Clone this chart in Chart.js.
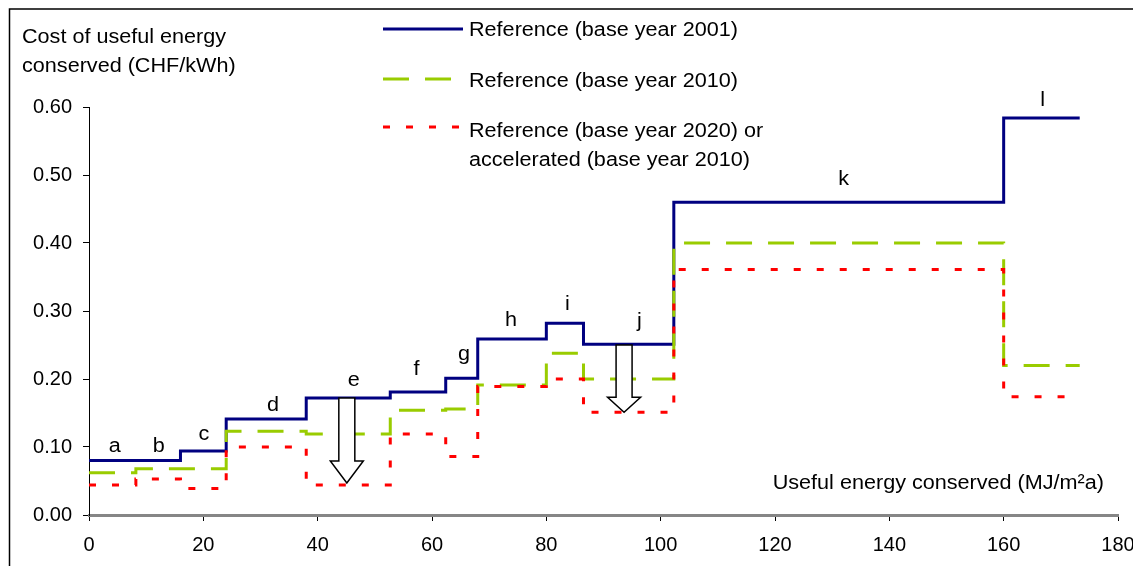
<!DOCTYPE html>
<html><head><meta charset="utf-8">
<script src="https://cdn.jsdelivr.net/npm/chart.js@4/dist/chart.umd.min.js"></script>
<style>html,body{margin:0;padding:0;background:#fff;}#wrap{width:1133px;height:566px;position:relative;}</style>
</head><body><div id="wrap"><canvas id="c" width="1133" height="566"></canvas></div>
<script>
// ---- data ----
const stepEdges2001 = [0, 16, 24, 38, 52.7, 62.4, 68, 80, 86.5, 102.3, 160, 173.3];
const cost2001 = [0.080, 0.094, 0.141, 0.172, 0.181, 0.201, 0.259, 0.282, 0.251, 0.460, 0.584];
const stepEdges = [0, 8.2, 16, 24, 38, 52.7, 62.4, 68, 80, 86.5, 102.3, 160, 173.3];
const cost2010 = [0.062, 0.068, 0.068, 0.123, 0.119, 0.154, 0.156, 0.191, 0.238, 0.200, 0.400, 0.220];
const cost2020 = [0.044, 0.053, 0.039, 0.100, 0.044, 0.119, 0.086, 0.189, 0.200, 0.151, 0.361, 0.174];
const seriesNames = ['Reference (base year 2001)', 'Reference (base year 2010)', ['Reference (base year 2020) or', 'accelerated (base year 2010)']];
const measureLetters = ['a','b','c','d','e','f','g','h','i','j','k','l'];
const letterX = [4.5, 12.2, 20.1, 32.2, 46.3, 57.3, 65.6, 73.8, 83.7, 96.3, 132, 166.8];
const letterY = [0.093, 0.093, 0.110, 0.153, 0.189, 0.206, 0.228, 0.278, 0.301, 0.277, 0.485, 0.601];
const arrowX = [45.1, 93.6];
const arrowFrom = [0.172, 0.250];
const arrowTo = [0.047, 0.151];
const xTickValues = [0, 20, 40, 60, 80, 100, 120, 140, 160, 180];
const yTickValues = [0.00, 0.10, 0.20, 0.30, 0.40, 0.50, 0.60];
const yTitle = ['Cost of useful energy', 'conserved (CHF/kWh)'];
const xTitle = 'Useful energy conserved (MJ/m²a)';

// ---- styles ----
const FONT = '"Liberation Sans", Arial, sans-serif';
const FS = 20;
const SX = 1.08;
const C_BLUE = '#000080', C_GREEN = '#99cc00', C_RED = '#ff0000';
const DASH_GREEN = [26, 16], DASH_RED = [7, 16];
const arrowHeadLen = [22, 15];

function steps(edges, vals) {
  return edges.map((x, i) => ({ x: x, y: vals[Math.min(i, vals.length - 1)] }));
}
function text(ctx, s, x, y, align) {
  ctx.save();
  ctx.translate(x, y); ctx.scale(SX, 1);
  ctx.textAlign = align; ctx.textBaseline = 'alphabetic';
  ctx.fillText(s, 0, 0);
  ctx.restore();
}

const overlay = {
  id: 'overlay',
  afterDatasetsDraw(chart) {
    const ctx = chart.ctx, xs = chart.scales.x, ys = chart.scales.y;
    ctx.save();
    for (let i = 0; i < arrowX.length; i++) {
      const cx = xs.getPixelForValue(arrowX[i]);
      const top = ys.getPixelForValue(arrowFrom[i]);
      const tip = ys.getPixelForValue(arrowTo[i]);
      const hb = tip - arrowHeadLen[i];
      ctx.beginPath();
      ctx.moveTo(cx - 8, top); ctx.lineTo(cx + 8, top); ctx.lineTo(cx + 8, hb);
      ctx.lineTo(cx + 16.5, hb); ctx.lineTo(cx, tip); ctx.lineTo(cx - 16.5, hb);
      ctx.lineTo(cx - 8, hb); ctx.closePath();
      ctx.fillStyle = '#fff'; ctx.fill();
      ctx.lineWidth = 1.5; ctx.strokeStyle = '#000'; ctx.lineJoin = 'miter'; ctx.stroke();
    }
    ctx.fillStyle = '#000'; ctx.font = FS + 'px ' + FONT;
    for (let i = 0; i < measureLetters.length; i++) {
      text(ctx, measureLetters[i], xs.getPixelForValue(letterX[i]), ys.getPixelForValue(letterY[i]), 'center');
    }
    ctx.restore();
  },
  afterDraw(chart) {
    const ctx = chart.ctx;
    ctx.save();
    ctx.strokeStyle = '#000'; ctx.lineWidth = 1.5;
    ctx.beginPath(); ctx.moveTo(9.5, 566); ctx.lineTo(9.5, 9); ctx.lineTo(1133, 9); ctx.stroke();
    ctx.fillStyle = '#000'; ctx.font = FS + 'px ' + FONT;
    text(ctx, yTitle[0], 22, 43, 'left');
    text(ctx, yTitle[1], 22, 72, 'left');
    text(ctx, xTitle, 1104, 489, 'right');
    const rows = [29, 79, 127];
    const styles = [[C_BLUE, []], [C_GREEN, DASH_GREEN], [C_RED, DASH_RED]];
    const ends = [463, 452, 461];
    ctx.lineWidth = 3; ctx.lineCap = 'butt';
    for (let i = 0; i < 3; i++) {
      ctx.strokeStyle = styles[i][0]; ctx.setLineDash(styles[i][1]);
      ctx.beginPath(); ctx.moveTo(383, rows[i]); ctx.lineTo(ends[i], rows[i]); ctx.stroke();
    }
    ctx.setLineDash([]);
    text(ctx, seriesNames[0], 469, 36, 'left');
    text(ctx, seriesNames[1], 469, 87, 'left');
    text(ctx, seriesNames[2][0], 469, 136.5, 'left');
    text(ctx, seriesNames[2][1], 469, 165.5, 'left');
    ctx.restore();
  }
};

new Chart(document.getElementById('c'), {
  type: 'line',
  data: {
    datasets: [
      { label: seriesNames[0], data: steps(stepEdges2001, cost2001), borderColor: C_BLUE, borderWidth: 3, stepped: 'before', pointRadius: 0, order: 3, fill: false },
      { label: seriesNames[1], data: steps(stepEdges, cost2010), borderColor: C_GREEN, borderWidth: 3, borderDash: DASH_GREEN, stepped: 'before', pointRadius: 0, order: 2, fill: false },
      { label: seriesNames[2].join(' '), data: steps(stepEdges, cost2020), borderColor: C_RED, borderWidth: 3, borderDash: DASH_RED, stepped: 'before', pointRadius: 0, order: 1, fill: false }
    ]
  },
  options: {
    responsive: false,
    animation: false,
    layout: { padding: { left: 0, right: 15, top: 107, bottom: 0 } },
    plugins: { legend: { display: false }, tooltip: { enabled: false }, title: { display: false } },
    scales: {
      x: {
        type: 'linear', min: 0, max: 180,
        afterBuildTicks: s => { s.ticks = xTickValues.map(v => ({ value: v })); },
        afterFit: s => { s.height = 51; s.paddingLeft = 0; s.paddingRight = 0; },
        border: { display: true, color: '#868686', width: 3 },
        grid: { drawOnChartArea: false, drawTicks: true, tickLength: 6, color: '#000', lineWidth: 1 },
        ticks: { color: '#000', font: { family: FONT, size: FS }, padding: 12, maxRotation: 0, autoSkip: false }
      },
      y: {
        min: 0, max: 0.6,
        afterBuildTicks: s => { s.ticks = yTickValues.map(v => ({ value: v })); },
        afterFit: s => { s.width = 89; s.paddingTop = 0; s.paddingBottom = 0; },
        border: { display: true, color: '#000', width: 1 },
        grid: { drawOnChartArea: false, drawTicks: true, tickLength: 6, color: '#000', lineWidth: 1 },
        ticks: { color: '#000', font: { family: FONT, size: FS }, padding: 11, callback: v => v.toFixed(2), autoSkip: false }
      }
    }
  },
  plugins: [overlay]
});
</script>
</body></html>
